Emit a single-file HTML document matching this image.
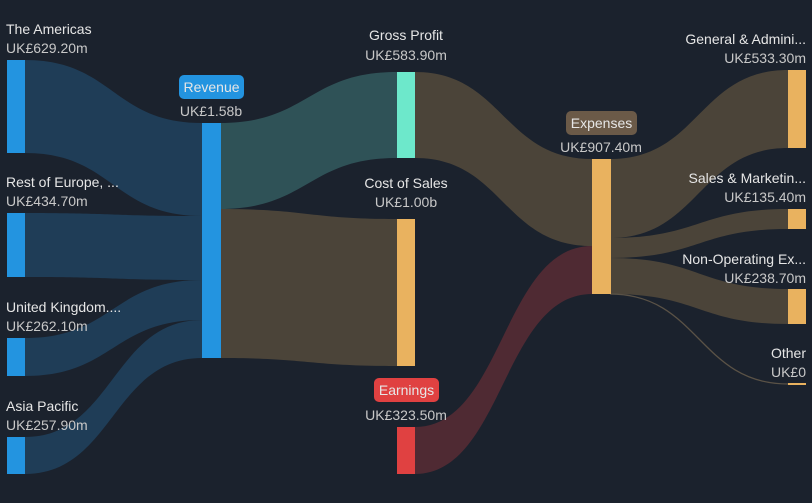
<!DOCTYPE html>
<html><head><meta charset="utf-8"><style>
html,body{margin:0;padding:0;background:#1b222d;}
svg{display:block;font-family:"Liberation Sans",sans-serif;}
.n{fill:#e6e6e6;font-size:14px}
.v{fill:#c8c8c8;font-size:14px}
</style></head><body>
<svg width="812" height="503" viewBox="0 0 812 503">
<rect width="812" height="503" fill="#1b222d"/>
<!-- inputs to revenue -->
<path d="M25,60 C113,60 113,123 202,123 L202,216 C113,216 113,153 25,153 Z" fill="#1f3d57"/>
<path d="M25,213 C113,213 113,216 202,216 L202,280 C113,280 113,277 25,277 Z" fill="#1f3d57"/>
<path d="M25,338 C113,338 113,280 202,280 L202,320 C113,320 113,376 25,376 Z" fill="#1f3d57"/>
<path d="M25,437 C113,437 113,320 202,320 L202,358 C113,358 113,474 25,474 Z" fill="#1f3d57"/>
<!-- revenue out -->
<path d="M220,123 C308,123 308,72 397,72 L397,158 C308,158 308,209 220,209 Z" fill="#2f5257"/>
<path d="M220,209 C308,209 308,219 397,219 L397,366 C308,366 308,358 220,358 Z" fill="#4b4439"/>
<!-- to expenses -->
<path d="M415,72 C503,72 503,159 592,159 L592,246 C503,246 503,158 415,158 Z" fill="#4b4439"/>
<path d="M415,427 C503,427 503,246 592,246 L592,294 C503,294 503,474 415,474 Z" fill="#4f2a33"/>
<!-- expenses out -->
<path d="M610,159 C699,159 699,70 788,70 L788,148 C699,148 699,238 610,238 Z" fill="#4b4439"/>
<path d="M610,238 C699,238 699,209 788,209 L788,229 C699,229 699,258 610,258 Z" fill="#4b4439"/>
<path d="M610,258 C699,258 699,289 788,289 L788,324 C699,324 699,294 610,294 Z" fill="#4b4439"/>
<path d="M610,294 C699,294 699,384 788,384" stroke="#5a5246" stroke-width="1.3" fill="none"/>
<!-- nodes -->
<rect x="7" y="60" width="18" height="93" fill="#2394e0"/>
<rect x="7" y="213" width="18" height="64" fill="#2394e0"/>
<rect x="7" y="338" width="18" height="38" fill="#2394e0"/>
<rect x="7" y="437" width="18" height="37" fill="#2394e0"/>
<rect x="202" y="123" width="19" height="235" fill="#2394e0"/>
<rect x="397" y="72" width="18" height="86" fill="#6de8cb"/>
<rect x="397" y="219" width="18" height="147" fill="#e9b25f"/>
<rect x="397" y="427" width="18" height="47" fill="#e04141"/>
<rect x="592" y="159" width="19" height="135" fill="#e9b25f"/>
<rect x="788" y="70" width="18" height="78" fill="#e9b25f"/>
<rect x="788" y="209" width="18" height="20" fill="#e9b25f"/>
<rect x="788" y="289" width="18" height="35" fill="#e9b25f"/>
<rect x="788" y="383" width="18" height="2" fill="#e9b25f"/>
<!-- labels -->
<text class="n" x="6" y="34">The Americas</text>
<text class="v" x="6" y="53">UK£629.20m</text>
<text class="n" x="6" y="187">Rest of Europe, ...</text>
<text class="v" x="6" y="206">UK£434.70m</text>
<text class="n" x="6" y="312">United Kingdom....</text>
<text class="v" x="6" y="331">UK£262.10m</text>
<text class="n" x="6" y="411">Asia Pacific</text>
<text class="v" x="6" y="430">UK£257.90m</text>
<rect x="179" y="75" width="65" height="24" rx="5" fill="#2394e0"/>
<text class="n" x="211.5" y="92" text-anchor="middle" fill="#fff">Revenue</text>
<text class="v" x="211" y="116" text-anchor="middle">UK£1.58b</text>
<text class="n" x="406" y="40" text-anchor="middle">Gross Profit</text>
<text class="v" x="406" y="60" text-anchor="middle">UK£583.90m</text>
<text class="n" x="406" y="188" text-anchor="middle">Cost of Sales</text>
<text class="v" x="406" y="207" text-anchor="middle">UK£1.00b</text>
<rect x="374" y="378" width="65" height="24" rx="5" fill="#e04141"/>
<text class="n" x="406.5" y="395" text-anchor="middle" fill="#fff">Earnings</text>
<text class="v" x="406" y="420" text-anchor="middle">UK£323.50m</text>
<rect x="566" y="111" width="71" height="24" rx="5" fill="#6b5a48"/>
<text class="n" x="601.5" y="128" text-anchor="middle" fill="#fff">Expenses</text>
<text class="v" x="601" y="152" text-anchor="middle">UK£907.40m</text>
<text class="n" x="806" y="44" text-anchor="end">General &amp; Admini...</text>
<text class="v" x="806" y="63" text-anchor="end">UK£533.30m</text>
<text class="n" x="806" y="183" text-anchor="end">Sales &amp; Marketin...</text>
<text class="v" x="806" y="202" text-anchor="end">UK£135.40m</text>
<text class="n" x="806" y="264" text-anchor="end">Non-Operating Ex...</text>
<text class="v" x="806" y="283" text-anchor="end">UK£238.70m</text>
<text class="n" x="806" y="358" text-anchor="end">Other</text>
<text class="v" x="806" y="377" text-anchor="end">UK£0</text>
</svg>
</body></html>
